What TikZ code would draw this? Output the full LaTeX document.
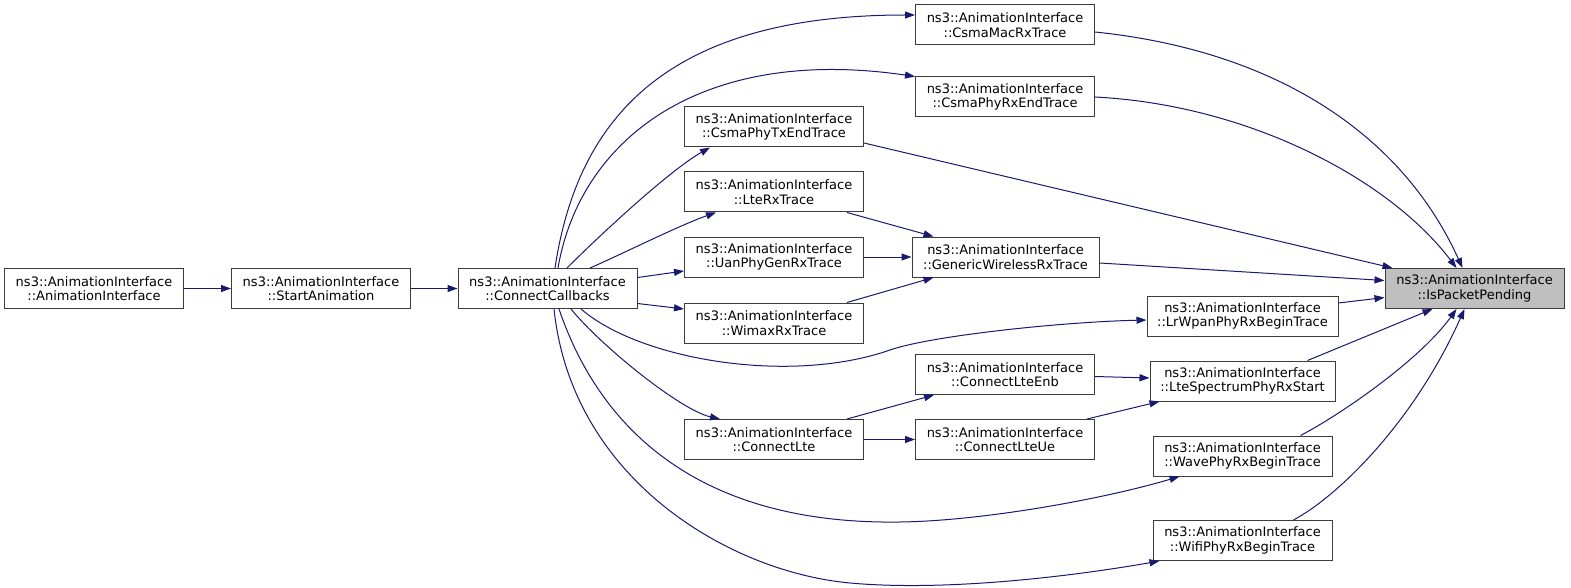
\documentclass[tikz,border=0pt]{standalone}
\usepackage{fontspec}
\setmainfont{DejaVu Sans}
\usetikzlibrary{arrows.meta}
\definecolor{edgecol}{RGB}{25,25,112}
\definecolor{bordercol}{RGB}{60,60,60}
\definecolor{hlfill}{RGB}{191,191,191}
\begin{document}
\begin{tikzpicture}[x=1pt,y=-1pt,
  fn/.style={draw=bordercol, line width=1pt, rectangle, minimum width=179pt, minimum height=40pt, inner sep=0pt, align=center, font=\fontsize{13}{14.5}\selectfont, fill=white},
  hl/.style={fn, fill=hlfill},
  edge/.style={draw=edgecol, line width=1pt, -{Triangle[length=10pt,width=7pt]}}]
\useasboundingbox (0,0) rectangle (1571,588);
\node[fn] (AI) at (94,288.5) {ns3::AnimationInterface\\::AnimationInterface};
\node[fn] (SA) at (321,288.5) {ns3::AnimationInterface\\::StartAnimation};
\node[fn] (CC) at (547.5,288.5) {ns3::AnimationInterface\\::ConnectCallbacks};
\node[fn] (CMR) at (1005,25) {ns3::AnimationInterface\\::CsmaMacRxTrace};
\node[fn] (CPR) at (1005,97) {ns3::AnimationInterface\\::CsmaPhyRxEndTrace};
\node[fn] (CPT) at (774,127) {ns3::AnimationInterface\\::CsmaPhyTxEndTrace};
\node[fn] (LRX) at (774,192) {ns3::AnimationInterface\\::LteRxTrace};
\node[fn] (UAN) at (774,257) {ns3::AnimationInterface\\::UanPhyGenRxTrace};
\node[fn, minimum width=187pt] (GW) at (1005.5,257) {ns3::AnimationInterface\\::GenericWirelessRxTrace};
\node[fn] (WMX) at (774,323) {ns3::AnimationInterface\\::WimaxRxTrace};
\node[fn, minimum width=191pt] (LRW) at (1242.5,316) {ns3::AnimationInterface\\::LrWpanPhyRxBeginTrace};
\node[fn] (CLE) at (1005,374.5) {ns3::AnimationInterface\\::ConnectLteEnb};
\node[fn, minimum width=185pt] (LSP) at (1242.5,381) {ns3::AnimationInterface\\::LteSpectrumPhyRxStart};
\node[fn] (CL) at (774,439.5) {ns3::AnimationInterface\\::ConnectLte};
\node[fn] (CLU) at (1005,439.5) {ns3::AnimationInterface\\::ConnectLteUe};
\node[fn] (WAV) at (1242.5,456) {ns3::AnimationInterface\\::WavePhyRxBeginTrace};
\node[fn] (WIF) at (1242.5,540.5) {ns3::AnimationInterface\\::WifiPhyRxBeginTrace};
\node[hl] (IPP) at (1474.5,288.5) {ns3::AnimationInterface\\::IsPacketPending};
% edges
\draw[edge] (AI.east) -- (SA.west);
\draw[edge] (SA.east) -- (CC.west);
\draw[edge] ([xshift=7.5pt]CC.north) .. controls (578,115) and (670,15) .. ([yshift=10pt]CMR.west);
\draw[edge] ([xshift=10.5pt]CC.north) .. controls (580,140) and (700,45) .. (CPR.north west);
\draw[edge] ([xshift=19.5pt]CC.north) .. controls (600,235) and (670,170) .. ([xshift=26pt]CPT.south west);
\draw[edge] ([xshift=42.5pt]CC.north) .. controls (620,255) and (680,225) .. ([xshift=32pt]LRX.south west);
\draw[edge] ([yshift=11pt]CC.east) -- ([yshift=-14pt]UAN.west);
\draw[edge] ([yshift=-15pt]CC.east) -- ([yshift=14pt]WMX.west);
\draw[edge] ([xshift=33.5pt]CC.south) .. controls (640,360) and (790,385) .. (890,350) .. controls (930,336) and (1060,322) .. ([yshift=-4pt]LRW.west);
\draw[edge] ([xshift=23.5pt]CC.south) .. controls (600,345) and (680,410) .. ([xshift=36pt]CL.north west);
\draw[edge] ([xshift=11.5pt]CC.south) .. controls (600,430) and (700,525) .. (900,522) .. controls (980,521) and (1100,500) .. ([xshift=27pt]WAV.south west);
\draw[edge] ([xshift=6.5pt]CC.south) .. controls (572,480) and (730,572) .. (850,583) .. controls (950,592) and (1080,575) .. ([xshift=7pt]WIF.south west);
\draw[edge] ([yshift=-7pt]CMR.east) .. controls (1270,50) and (1400,130) .. ([xshift=-12pt]IPP.north);
\draw[edge] (CPR.east) .. controls (1250,105) and (1390,180) .. ([xshift=-18pt]IPP.north);
\draw[edge] ([yshift=-16pt]CPT.east) -- ([xshift=8pt]IPP.north west);
\draw[edge] ([xshift=-17pt]LRX.south east) -- ([xshift=22pt]GW.north west);
\draw[edge] (UAN.east) -- (GW.west);
\draw[edge] ([xshift=-17pt]WMX.north east) -- ([xshift=22pt]GW.south west);
\draw[edge] ([yshift=-6pt]GW.east) -- ([yshift=8pt]IPP.west);
\draw[edge] ([yshift=13pt]LRW.east) -- ([yshift=-9pt]IPP.west);
\draw[edge] ([xshift=-17pt]CL.north east) -- ([xshift=19pt]CLE.south west);
\draw[edge] (CL.east) -- (CLU.west);
\draw[edge] ([yshift=-2pt]CLE.east) -- ([yshift=3pt]LSP.west);
\draw[edge] ([xshift=-8pt]CLU.north east) -- ([xshift=10pt]LSP.south west);
\draw[edge] ([xshift=-28pt]LSP.north east) -- ([xshift=48pt]IPP.south west);
\draw[edge] ([xshift=-32pt]WAV.north east) .. controls (1340,415) and (1420,360) .. ([xshift=-18pt]IPP.south);
\draw[edge] ([xshift=-39pt]WIF.north east) .. controls (1340,495) and (1415,420) .. ([xshift=-10pt]IPP.south);
\end{tikzpicture}
\end{document}
